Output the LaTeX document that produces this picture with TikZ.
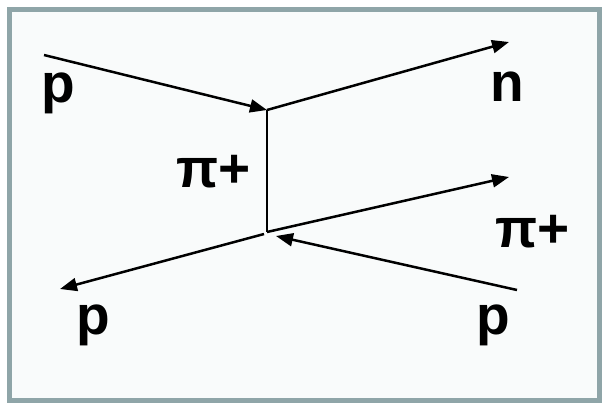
\documentclass[tikz,border=0pt]{standalone}
\usepackage{fontspec}
\setmainfont{Liberation Sans}
\usetikzlibrary{arrows.meta}
\definecolor{framec}{RGB}{143,165,168}
\definecolor{bgc}{RGB}{249,251,251}
\tikzset{
  lbl/.style={anchor=base west,inner sep=0pt,font=\fontsize{55}{60}\selectfont\bfseries},
  prt/.style={line width=2.5pt,-{Triangle[length=17pt,width=13pt]}},
  prop/.style={line width=1.6pt}
}
\begin{document}
\begin{tikzpicture}[x=1pt,y=-1pt]
\useasboundingbox (0,0) rectangle (602,402);
\fill[white] (0,0) rectangle (602,402);
\draw[framec,fill=bgc,line width=5pt] (9.5,9.5) rectangle (599.5,400.5);
% vertices and end points
\coordinate (a) at (44,55);
\coordinate (v1) at (267,110);
\coordinate (n) at (509,42);
\coordinate (v2) at (267,232);
\coordinate (pi) at (509,177);
\coordinate (b) at (264,234);
\coordinate (c) at (60,289);
\coordinate (d) at (517,290);
\coordinate (e) at (276,236);
% lines
\draw[prt] (a) -- (v1);
\draw[prt] (v1) -- (n);
\draw[prop] (v1) -- (v2);
\draw[prt] (v2) -- (pi);
\draw[prt] (b) -- (c);
\draw[prt] (d) -- (e);
% labels
\node[lbl] (l1) at (41,102) {p};
\node[lbl] (l2) at (490,101) {n};
\node[lbl] (l3) at (176,187) {π+};
\node[lbl] (l4) at (495,247) {π+};
\node[lbl] (l5) at (76.5,334) {p};
\node[lbl] (l6) at (476.5,334) {p};
\end{tikzpicture}
\end{document}
